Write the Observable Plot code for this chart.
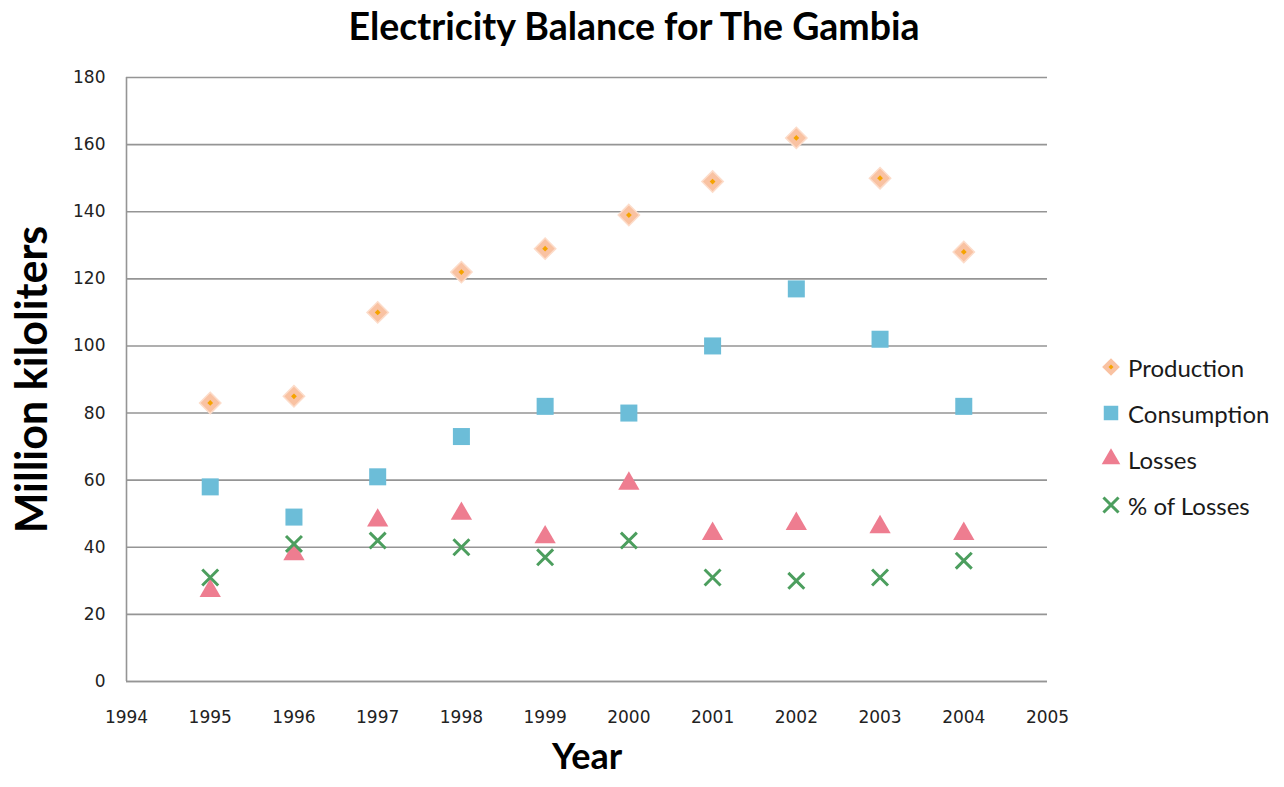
<!DOCTYPE html>
<html><head><meta charset="utf-8">
<script src="https://cdn.jsdelivr.net/npm/d3@7"></script>
<script src="https://cdn.jsdelivr.net/npm/@observablehq/plot@0.6"></script>
<style>
body{margin:0;background:#fff;}
#wrap{position:relative;width:1284px;height:787px;overflow:hidden;}
#title{height:58px;width:1268px;padding-right:16px;text-align:center;font:bold 37.5px Lato;line-height:52px;color:#000;}
#legend{position:absolute;left:1097px;top:344px;font:24px Lato;color:#1a1a1a;}
.item{display:flex;align-items:center;height:46px;margin-top:0;}
.item svg{width:28px;height:28px;margin-right:3px;}
</style>
</head><body>
<div id="wrap"><div id="title">Electricity Balance for The Gambia</div><div id="chart"></div><div id="legend"></div></div>
<script>
const years = [1995, 1996, 1997, 1998, 1999, 2000, 2001, 2002, 2003, 2004];
const production = [83, 85, 110, 122, 129, 139, 149, 162, 150, 128];
const consumption = [58, 49, 61, 73, 82, 80, 100, 117, 102, 82];
const losses = [27, 38, 48, 50, 43, 59, 44, 47, 46, 44];
const pctLosses = [31, 41, 42, 40, 37, 42, 31, 30, 31, 36];
const seriesNames = ["Production", "Consumption", "Losses", "% of Losses"];
const xTicks = [1994, 1995, 1996, 1997, 1998, 1999, 2000, 2001, 2002, 2003, 2004, 2005];
const yTicks = [0, 20, 40, 60, 80, 100, 120, 140, 160, 180];
const xLabel = "Year";
const yLabel = "Million kiloliters";

const colors = {peach: "#f9c2a2", peachEdge: "#fcdcca", orange: "#f5a300", blue: "#6cbdd8", pink: "#ee7d90", green: "#4c9e5e", grid: "#959595"};
const rows = vals => years.map((year, i) => ({year, value: vals[i]}));

const chart = Plot.plot({
  width: 1284, height: 729,
  marginLeft: 126, marginRight: 237, marginTop: 19, marginBottom: 106,
  x: {domain: [1994, 2005]},
  y: {domain: [0, 180]},
  style: {fontFamily: "DejaVu Sans", fontSize: "17px", color: "#222", background: "#fff"},
  marks: [
    Plot.gridY(yTicks, {stroke: colors.grid, strokeOpacity: 1, strokeWidth: 1.6}),
    Plot.ruleX([1994], {stroke: colors.grid, strokeWidth: 1.6}),
    Plot.ruleY([0], {stroke: colors.grid, strokeWidth: 1.6}),
    Plot.axisX(xTicks, {tickSize: 0, tickPadding: 29, label: null, tickFormat: d => String(d)}),
    Plot.axisY(yTicks, {tickSize: 0, tickPadding: 21, label: null}),
    Plot.dot(rows(production), {x: "year", y: "value", symbol: "diamond2", r: 9.6, fill: colors.peach, stroke: colors.peachEdge, strokeWidth: 1.5}),
    Plot.dot(rows(production), {x: "year", y: "value", symbol: "diamond2", r: 2.6, fill: colors.orange}),
    Plot.dot(rows(consumption), {x: "year", y: "value", symbol: "square", r: 9.6, fill: colors.blue}),
    Plot.dot(rows(losses), {x: "year", y: "value", symbol: "triangle", r: 7.9, fill: colors.pink}),
    Plot.dot(rows(pctLosses), {x: "year", y: "value", symbol: "times", r: 7.3, stroke: colors.green, strokeWidth: 3}),
    Plot.text([xLabel], {frameAnchor: "bottom", dy: 87, fontSize: 36, fontWeight: "bold", fill: "#000", fontFamily: "Lato"}),
    Plot.text([yLabel], {frameAnchor: "left", textAnchor: "middle", rotate: -90, dx: -93, fontSize: 43, fontWeight: "bold", fill: "#000", fontFamily: "Lato"})
  ]
});
document.getElementById("chart").appendChild(chart);

// legend
const swatches = [
  {symbol: d3.symbolDiamond2, size: 200, fill: colors.peach, inner: true},
  {symbol: d3.symbolSquare, size: 210, fill: colors.blue},
  {symbol: d3.symbolTriangle, size: 150, fill: colors.pink},
  {symbol: d3.symbolTimes, size: 150, stroke: colors.green}
];
const legend = d3.select("#legend");
seriesNames.forEach((name, i) => {
  const s = swatches[i];
  const item = legend.append("div").attr("class", "item");
  const svg = item.append("svg").attr("viewBox", "-14 -14 28 28");
  const p = svg.append("path").attr("d", d3.symbol(s.symbol, s.size)());
  if (s.fill) p.attr("fill", s.fill);
  if (s.stroke) p.attr("fill", "none").attr("stroke", s.stroke).attr("stroke-width", 3);
  if (s.inner) svg.append("path").attr("d", d3.symbol(d3.symbolDiamond2, 16)()).attr("fill", colors.orange);
  item.append("span").text(name);
});
</script>
</body></html>
